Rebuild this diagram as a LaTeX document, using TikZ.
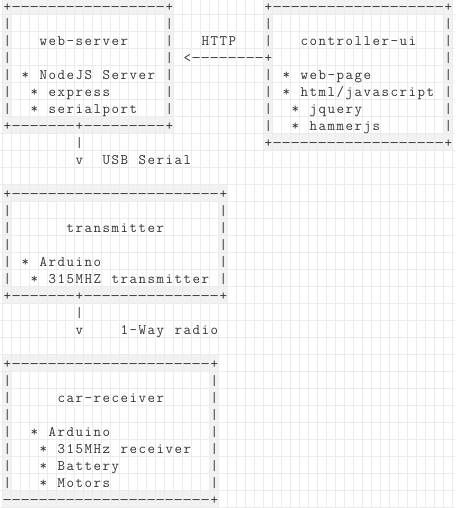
\documentclass[tikz,border=0pt]{standalone}
\usepackage{fontspec}
\usepackage{graphicx}
\definecolor{gridc}{RGB}{236,236,236}
\definecolor{shadec}{RGB}{242,242,242}
\definecolor{inkc}{RGB}{50,50,50}
\newdimen\cw \cw=9pt
\def\cells#1{\cellsloop#1\relax}
\def\cellsloop#1{\ifx\relax#1\else\makebox[\cw]{#1}\expandafter\cellsloop\fi}
\newcommand\cgap[1]{\hskip#1\cw\relax}
\newcommand\cdash[1]{\foreach\k in {1,...,#1}{\makebox[\cw]{\scalebox{1.3}[1]{-}}}}
\tikzset{txt/.style={anchor=base west,inner sep=0pt,outer sep=0pt,
  font=\fontsize{14.5}{17}\selectfont\ttfamily,text=inkc}}
\newcommand\arow[4]{\node[txt] (#1) at ({2.8+9*#2},{11.5+17*#3}) {#4};}
\newcommand\shadeframe[4]{%
  \fill[shadec,even odd rule] ({2.8+9*#1},{-2.7+17*#2}) rectangle ({11.8+9*#3},{14.3+17*#4})
    ({11.8+9*#1},{14.3+17*#2}) rectangle ({2.8+9*#3},{-2.7+17*#4});}
\begin{document}
\begin{tikzpicture}[x=1pt,y=-1pt]
\useasboundingbox (0,0) rectangle (455,508);
\fill[white] (0,0) rectangle (455,508);
% shaded frames of the boxes
\shadeframe{0}{0}{18}{7}
\shadeframe{29}{0}{49}{8}
\shadeframe{0}{11}{24}{17}
\shadeframe{0}{21}{23}{29}
% grid
\foreach \k in {0,...,50} \draw[gridc,line width=1.3pt] ({2.8+9*\k},0) -- ({2.8+9*\k},508);
\foreach \k in {-1,...,29} \draw[gridc,line width=1.3pt] (0,{14.3+17*\k}) -- (455,{14.3+17*\k});
% web-server box
\arow{ws0}{0}{0}{\cells{+}\cdash{17}\cells{+}}
\arow{ws1}{0}{1}{\cells{|}\cgap{17}\cells{|}}
\arow{ws2}{0}{2}{\cells{|~~~web-server~~~~|}}
\arow{ws3}{0}{3}{\cells{|}\cgap{17}\cells{|}}
\arow{ws4}{0}{4}{\cells{|~*~NodeJS~Server~|}}
\arow{ws5}{0}{5}{\cells{|~~*~express~~~~~~|}}
\arow{ws6}{0}{6}{\cells{|~~*~serialport~~~|}}
\arow{ws7}{0}{7}{\cells{+}\cdash{7}\cells{+}\cdash{9}\cells{+}}
% controller-ui box
\arow{ui0}{29}{0}{\cells{+}\cdash{19}\cells{+}}
\arow{ui1}{29}{1}{\cells{|}\cgap{19}\cells{|}}
\arow{ui2}{29}{2}{\cells{|~~~controller-ui~~~|}}
\arow{ui3}{29}{3}{\cells{+}\cgap{19}\cells{|}}
\arow{ui4}{29}{4}{\cells{|~*~web-page~~~~~~~~|}}
\arow{ui5}{29}{5}{\cells{|~*~html/javascript~|}}
\arow{ui6}{29}{6}{\cells{|~~*~jquery~~~~~~~~~|}}
\arow{ui7}{29}{7}{\cells{|~~*~hammerjs~~~~~~~|}}
\arow{ui8}{29}{8}{\cells{+}\cdash{19}\cells{+}}
% HTTP connector
\arow{http}{22}{2}{\cells{HTTP}}
\arow{httparrow}{20}{3}{\cells{<}\cdash{8}}
% USB connector
\arow{usbbar}{8}{8}{\cells{|}}
\arow{usbhead}{8}{9}{\cells{v}}
\arow{usb}{11}{9}{\cells{USB~Serial}}
% transmitter box
\arow{tx11}{0}{11}{\cells{+}\cdash{23}\cells{+}}
\arow{tx12}{0}{12}{\cells{|}\cgap{23}\cells{|}}
\arow{tx13}{0}{13}{\cells{|~~~~~~transmitter~~~~~~|}}
\arow{tx14}{0}{14}{\cells{|}\cgap{23}\cells{|}}
\arow{tx15}{0}{15}{\cells{|~*~Arduino}\cgap{13}\cells{|}}
\arow{tx16}{0}{16}{\cells{|~~*~315MHZ~transmitter~|}}
\arow{tx17}{0}{17}{\cells{+}\cdash{7}\cells{+}\cdash{15}\cells{+}}
% radio connector
\arow{radiobar}{8}{18}{\cells{|}}
\arow{radiohead}{8}{19}{\cells{v}}
\arow{radio}{13}{19}{\cells{1-Way~radio}}
% car-receiver box
\arow{rx21}{0}{21}{\cells{+}\cdash{22}\cells{+}}
\arow{rx22}{0}{22}{\cells{|}\cgap{22}\cells{|}}
\arow{rx23}{0}{23}{\cells{|~~~~~car-receiver~~~~~|}}
\arow{rx24}{0}{24}{\cells{|}\cgap{22}\cells{|}}
\arow{rx25}{0}{25}{\cells{|~~*~Arduino}\cgap{11}\cells{|}}
\arow{rx26}{0}{26}{\cells{|~~~*~315MHz~receiver~~|}}
\arow{rx27}{0}{27}{\cells{|~~~*~Battery}\cgap{10}\cells{|}}
\arow{rx28}{0}{28}{\cells{|~~~*~Motors}\cgap{11}\cells{|}}
\arow{rx29}{0}{29}{\cdash{23}\cells{+}}
\end{tikzpicture}
\end{document}
